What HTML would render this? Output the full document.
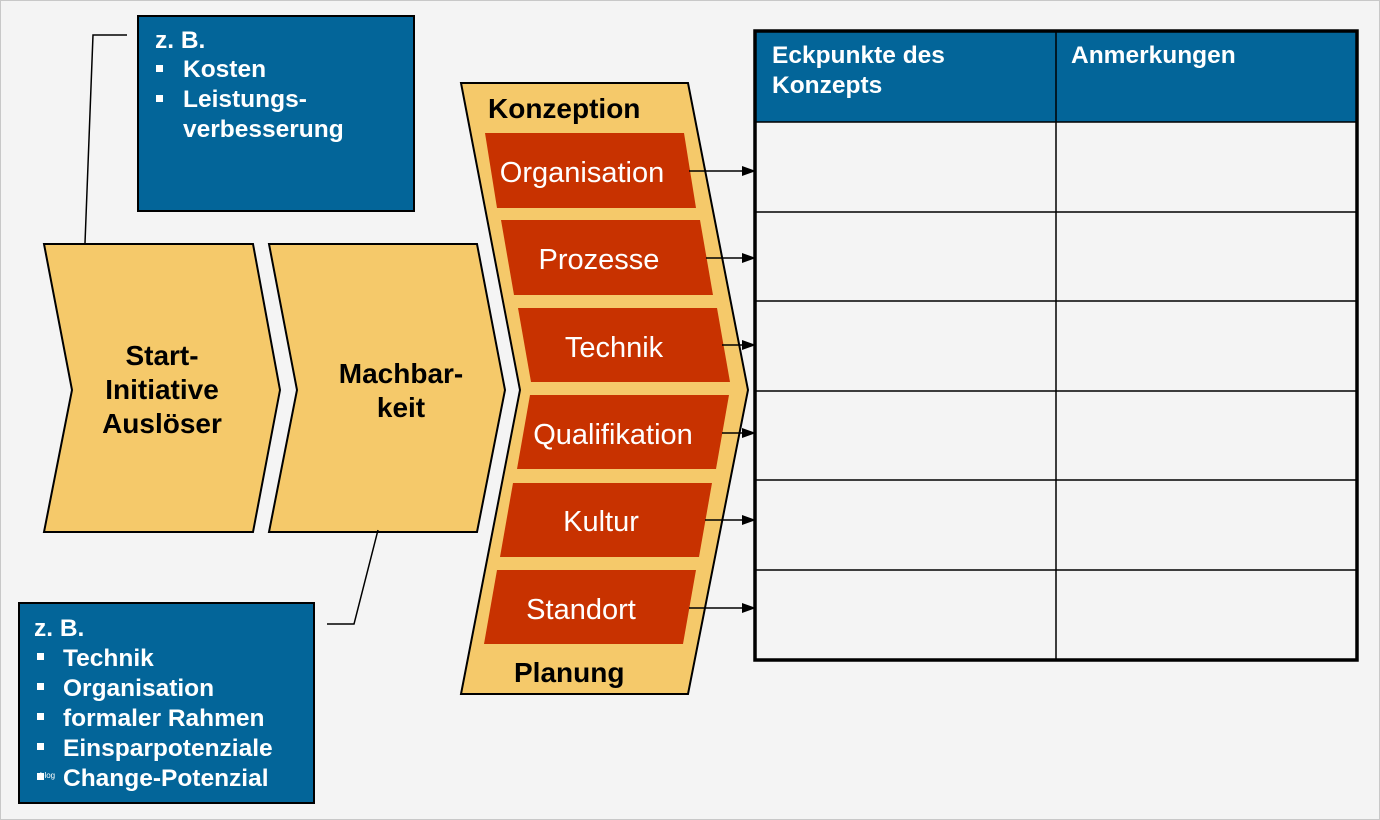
<!DOCTYPE html>
<html><head><meta charset="utf-8"><style>
html,body{margin:0;padding:0;background:#f4f4f4}
svg{display:block}
text{font-family:"Liberation Sans",Arial,sans-serif}
</style></head><body>
<svg width="1380" height="820" viewBox="0 0 1380 820" xmlns="http://www.w3.org/2000/svg">
<defs><marker id="a" markerWidth="14" markerHeight="12" refX="13" refY="6" orient="auto" markerUnits="userSpaceOnUse"><path d="M0,1 L14,6 L0,11 Z" fill="#000"/></marker></defs>
<rect x="0.5" y="0.5" width="1379" height="819" fill="#f4f4f4" stroke="#c8c8c8"/>
<polyline points="127,35 93,35 85,243" fill="none" stroke="#000" stroke-width="1.5"/>
<rect x="138" y="16" width="276" height="195" fill="#036599" stroke="#000" stroke-width="2"/>
<g fill="#fff" font-weight="bold" font-size="24.5">
<text x="155" y="48">z. B.</text>
<rect x="156" y="65" width="7" height="7"/><text x="183" y="77">Kosten</text>
<rect x="156" y="95" width="7" height="7"/><text x="183" y="107">Leistungs-</text>
<text x="183" y="137">verbesserung</text>
</g>
<polygon points="44,244 253,244 280,390 253,532 44,532 72,390" fill="#f5c96a" stroke="#000" stroke-width="2"/>
<polygon points="269,244 477,244 505,390 477,532 269,532 297,390" fill="#f5c96a" stroke="#000" stroke-width="2"/>
<g font-weight="bold" font-size="28" text-anchor="middle" fill="#000">
<text x="162" y="365">Start-</text><text x="162" y="399">Initiative</text><text x="162" y="433">Auslöser</text>
<text x="401" y="383">Machbar-</text><text x="401" y="417">keit</text>
</g>
<polyline points="378,530 354,624 327,624" fill="none" stroke="#000" stroke-width="1.5"/>
<rect x="19" y="603" width="295" height="200" fill="#036599" stroke="#000" stroke-width="2"/>
<g fill="#fff" font-weight="bold" font-size="24.5">
<text x="34" y="636">z. B.</text>
<rect x="37" y="653" width="7" height="7"/><text x="63" y="666">Technik</text>
<rect x="37" y="683" width="7" height="7"/><text x="63" y="696">Organisation</text>
<rect x="37" y="713" width="7" height="7"/><text x="63" y="726">formaler Rahmen</text>
<rect x="37" y="743" width="7" height="7"/><text x="63" y="756">Einsparpotenziale</text>
<rect x="37" y="773" width="7" height="7"/><text x="40" y="778" font-size="8" font-weight="normal">blog</text><text x="63" y="786">Change-Potenzial</text>
</g>
<polygon points="461,83 688,83 748,390 688,694 461,694 520,390" fill="#f5c96a" stroke="#000" stroke-width="2"/>
<g fill="#c83200">
<polygon points="485,133 684,133 696,208 497,208"/>
<polygon points="501,220 700,220 713,295 514,295"/>
<polygon points="518,308 717,308 730,382 531,382"/>
<polygon points="530,395 729,395 716,469 517,469"/>
<polygon points="513,483 712,483 699,557 500,557"/>
<polygon points="497,570 696,570 683,644 484,644"/>
</g>
<g fill="#fff" font-size="29" text-anchor="middle">
<text x="582" y="182">Organisation</text>
<text x="599" y="269">Prozesse</text>
<text x="614" y="357">Technik</text>
<text x="613" y="444">Qualifikation</text>
<text x="601" y="531">Kultur</text>
<text x="581" y="619">Standort</text>
</g>
<g font-weight="bold" font-size="28" fill="#000">
<text x="488" y="118">Konzeption</text>
<text x="514" y="682">Planung</text>
</g>
<g stroke="#000" stroke-width="1.5" marker-end="url(#a)">
<line x1="689" y1="171" x2="755" y2="171"/>
<line x1="706" y1="258" x2="755" y2="258"/>
<line x1="722" y1="345" x2="755" y2="345"/>
<line x1="722" y1="433" x2="755" y2="433"/>
<line x1="705" y1="520" x2="755" y2="520"/>
<line x1="689" y1="608" x2="755" y2="608"/>
</g>
<rect x="755" y="31" width="602" height="91" fill="#036599"/>
<g stroke="#000" stroke-width="1.5">
<line x1="755" y1="122" x2="1357" y2="122"/>
<line x1="755" y1="212" x2="1357" y2="212"/>
<line x1="755" y1="301" x2="1357" y2="301"/>
<line x1="755" y1="391" x2="1357" y2="391"/>
<line x1="755" y1="480" x2="1357" y2="480"/>
<line x1="755" y1="570" x2="1357" y2="570"/>
<line x1="1056" y1="31" x2="1056" y2="660"/>
</g>
<rect x="755" y="31" width="602" height="629" fill="none" stroke="#000" stroke-width="3.5"/>
<g fill="#fff" font-weight="bold" font-size="24.5">
<text x="772" y="63">Eckpunkte des</text><text x="772" y="93">Konzepts</text>
<text x="1071" y="63">Anmerkungen</text>
</g>
</svg>
</body></html>
